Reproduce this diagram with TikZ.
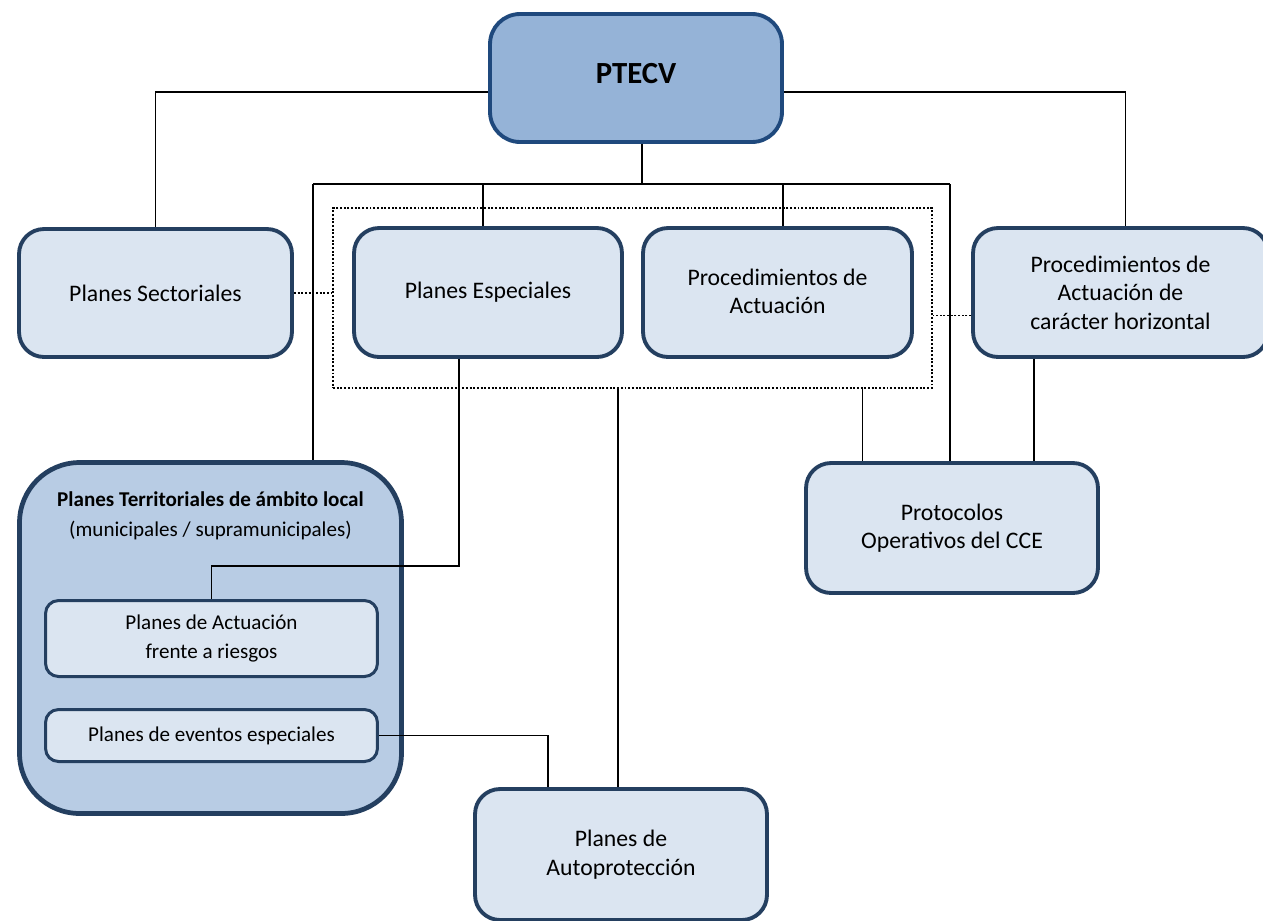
\documentclass[tikz,border=0pt]{standalone}
\usepackage{fontspec}
\setmainfont{Carlito}
\usetikzlibrary{calc}
\definecolor{navy}{HTML}{243F60}
\definecolor{topblue}{HTML}{1F497D}
\definecolor{lightbox}{HTML}{DBE5F1}
\definecolor{midbox}{HTML}{B8CCE4}
\definecolor{topfill}{HTML}{95B3D7}
\begin{document}
\begin{tikzpicture}[x=0.02cm,y=-0.02cm,line width=0.95pt,
    box/.style={draw=navy,fill=lightbox,line width=2.2pt,rounded corners=0.5cm,align=center,inner sep=0pt,font=\fontsize{13.5}{16.2}\selectfont},
    subbox/.style={draw=navy,fill=lightbox,line width=1.7pt,rounded corners=0.26cm,align=center,inner sep=0pt,minimum width=6.64cm,font=\fontsize{12}{16.4}\selectfont},
    grp/.style={draw,densely dotted,line width=1.1pt,inner sep=0pt},
    dotline/.style={densely dotted,line width=1.1pt}]
        \path[use as bounding box] (0,0) rectangle (1263,920);
        \clip (0,0) rectangle (1263,920);
        \node[box,fill=topfill,draw=topblue,rounded corners=0.6cm,minimum width=5.84cm,minimum height=2.56cm,text depth=5.7pt,font=\fontsize{17.5}{20}\selectfont\bfseries] (ptecv) at (636,78) {PTECV};
        \node[box,minimum width=5.46cm,minimum height=2.56cm] (sect) at (155.5,293) {Planes Sectoriales};
        \node[box,minimum width=5.36cm,minimum height=2.58cm] (esp) at (488,292.5) {Planes Especiales};
        \node[box,minimum width=5.38cm,minimum height=2.58cm,text depth=1.5pt] (proc) at (777.5,292.5) {Procedimientos de\\Actuación};
        \node[box,minimum width=5.9cm,minimum height=2.58cm] (horiz) at (1120.5,292.5) {Procedimientos de\\Actuación de\\carácter horizontal};
        \node[grp,minimum width=11.98cm,minimum height=3.6cm] (grupo) at (632.5,298) {};
        \node[box,line width=2.7pt,fill=midbox,rounded corners=1.2cm,minimum width=7.64cm,minimum height=7.02cm] (terr) at (210.5,638) {};
        \node[align=center,font=\fontsize{12}{17}\selectfont] (terrtit) at (210.5,516) {\textbf{Planes Territoriales de ámbito local}\\(municipales / supramunicipales)};
        \node[subbox,minimum height=1.52cm] (riesgos) at (211.5,638.5) {Planes de Actuación\\frente a riesgos};
        \node[subbox,minimum height=1.04cm] (eventos) at (211.5,735.5) {Planes de eventos especiales};
        \node[box,minimum width=5.84cm,minimum height=2.6cm] (cce) at (952,528) {Protocolos\\Operativos del CCE};
        \node[box,minimum width=5.84cm,minimum height=2.62cm] (auto) at (621,854.5) {Planes de\\Autoprotección};
        \coordinate (bus) at (642,184);
        \coordinate (busl) at (313,184);
        \coordinate (busr) at (950,184);
        \coordinate (busesp) at (483,184);
        \coordinate (busproc) at (783,184);
        \draw ($(ptecv.west)+(0,14)$) -| (sect.north);
        \draw ($(ptecv.east)+(0,14)$) -| ($(horiz.north)+(5,0)$);
        \draw (ptecv.south -| bus) -- (bus);
        \draw (busl) -- (busr);
        \draw (busl) -- (busl |- terr.north);
        \draw (busr) -- (busr |- cce.north);
        \draw (busesp) -- (busesp |- esp.north);
        \draw (busproc) -- (busproc |- proc.north);
        \draw[dotline] (sect.east) -- (sect.east -| grupo.west);
        \draw[dotline] ($(horiz.west)+(0,23)$) coordinate (hw) -- (hw -| grupo.east);
        \draw ($(esp.south)+(-29,0)$) -- ++(0,207) -| (riesgos.north);
        \draw ($(grupo.south)+(-14.5,0)$) coordinate (gauto) -- (gauto |- auto.north);
        \draw (eventos.east) -| ($(auto.north)+(-73,0)$);
        \draw ($(grupo.south)+(230,0)$) coordinate (gcce) -- (gcce |- cce.north);
        \draw ($(horiz.south)+(-86.5,0)$) coordinate (hcce) -- (hcce |- cce.north);
\end{tikzpicture}
\end{document}
